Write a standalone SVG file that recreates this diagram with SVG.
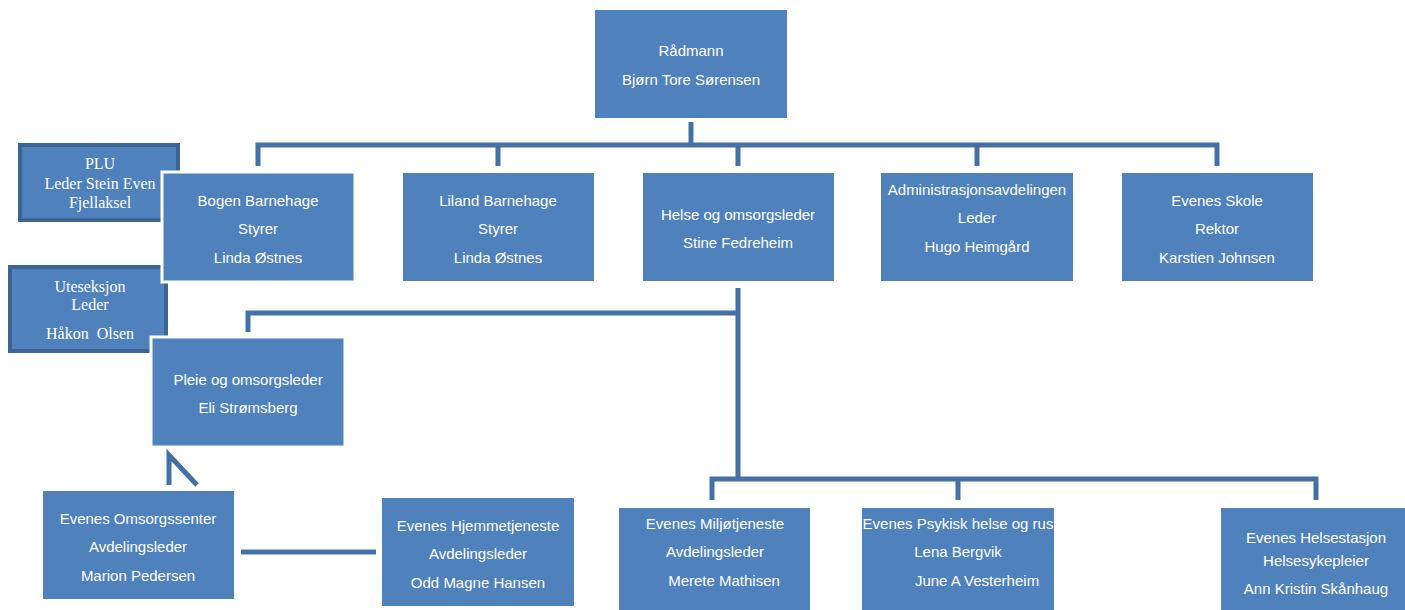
<svg xmlns="http://www.w3.org/2000/svg" width="1405" height="610" viewBox="0 0 1405 610">
<style>
.box{fill:#4F81BD;}
.wb{fill:#4F81BD;stroke:#FFFFFF;stroke-width:3;}
.db{fill:#4F81BD;stroke:#3D6594;stroke-width:4;}
.t{font-family:"Liberation Sans",Arial,sans-serif;font-size:15px;fill:#FFFFFF;text-anchor:middle;}
.s{font-family:"Liberation Serif","Times New Roman",serif;font-size:16px;fill:#FFFFFF;text-anchor:middle;}
.c{fill:none;stroke:#4470A8;stroke-width:5;stroke-linejoin:miter;}
</style>
<rect width="1405" height="610" fill="#FFFFFF"/>
<g id="connectors">
<path class="c" d="M691,122 V145 M258,166 V145 H1217 V166 M498,145 V166 M738,145 V166 M977,145 V166"/>
<path class="c" d="M738,288 V479 M248,332 V313 H738 M712,500 V479 H1316 V500 M958,479 V500"/>
<path class="c" d="M241,552 H376"/>
<path class="c" d="M169,485 V455 L197,485"/>
</g>
<g id="plu"><rect class="db" x="20" y="145" width="158" height="75"/>
<text class="s" x="100" y="169">PLU</text><text class="s" x="100" y="189">Leder Stein Even</text><text class="s" x="100" y="208">Fjellaksel</text></g>
<g id="uteseksjon"><rect class="db" x="10" y="267" width="156" height="84"/>
<text class="s" x="90" y="292">Uteseksjon</text><text class="s" x="90" y="310">Leder</text><text class="s" x="90" y="339" xml:space="preserve">Håkon  Olsen</text></g>
<g id="radmann"><rect class="box" x="595" y="10" width="192" height="108"/>
<text class="t" x="691" y="56">Rådmann</text><text class="t" x="691" y="85">Bjørn Tore Sørensen</text></g>
<g id="bogen"><rect class="wb" x="162" y="172" width="193" height="110"/>
<text class="t" x="258" y="206">Bogen Barnehage</text><text class="t" x="258" y="234">Styrer</text><text class="t" x="258" y="263">Linda Østnes</text></g>
<g id="liland"><rect class="box" x="403" y="173" width="191" height="108"/>
<text class="t" x="498" y="206">Liland Barnehage</text><text class="t" x="498" y="234">Styrer</text><text class="t" x="498" y="263">Linda Østnes</text></g>
<g id="helse"><rect class="box" x="643" y="173" width="191" height="108"/>
<text class="t" x="738" y="220">Helse og omsorgsleder</text><text class="t" x="738" y="248">Stine Fedreheim</text></g>
<g id="admin"><rect class="box" x="881" y="173" width="192" height="108"/>
<text class="t" x="977" y="195">Administrasjonsavdelingen</text><text class="t" x="977" y="223">Leder</text><text class="t" x="977" y="252">Hugo Heimgård</text></g>
<g id="skole"><rect class="box" x="1122" y="173" width="191" height="108"/>
<text class="t" x="1217" y="206">Evenes Skole</text><text class="t" x="1217" y="234">Rektor</text><text class="t" x="1217" y="263">Karstien Johnsen</text></g>
<g id="pleie"><rect class="wb" x="151" y="337" width="194" height="110"/>
<text class="t" x="248" y="385">Pleie og omsorgsleder</text><text class="t" x="248" y="413">Eli Strømsberg</text></g>
<g id="omsorgssenter"><rect class="box" x="43" y="491" width="191" height="108"/>
<text class="t" x="138" y="524">Evenes Omsorgssenter</text><text class="t" x="138" y="552">Avdelingsleder</text><text class="t" x="138" y="581">Marion Pedersen</text></g>
<g id="hjemmetjeneste"><rect class="box" x="382" y="498" width="192" height="108"/>
<text class="t" x="478" y="531">Evenes Hjemmetjeneste</text><text class="t" x="478" y="559">Avdelingsleder</text><text class="t" x="478" y="588">Odd Magne Hansen</text></g>
<g id="miljo"><rect class="box" x="619" y="508" width="191" height="102"/>
<text class="t" x="715" y="529">Evenes Miljøtjeneste</text><text class="t" x="715" y="557">Avdelingsleder</text><text class="t" x="724" y="586">Merete Mathisen</text></g>
<g id="psykisk"><rect class="box" x="862" y="508" width="192" height="102"/>
<text class="t" x="958" y="529">Evenes Psykisk helse og rus</text><text class="t" x="958" y="557">Lena Bergvik</text><text class="t" x="977" y="586">June A Vesterheim</text></g>
<g id="helsestasjon"><rect class="box" x="1221" y="508" width="192" height="102"/>
<text class="t" x="1316" y="543">Evenes Helsestasjon</text><text class="t" x="1316" y="566">Helsesykepleier</text><text class="t" x="1316" y="594">Ann Kristin Skånhaug</text></g>
</svg>
